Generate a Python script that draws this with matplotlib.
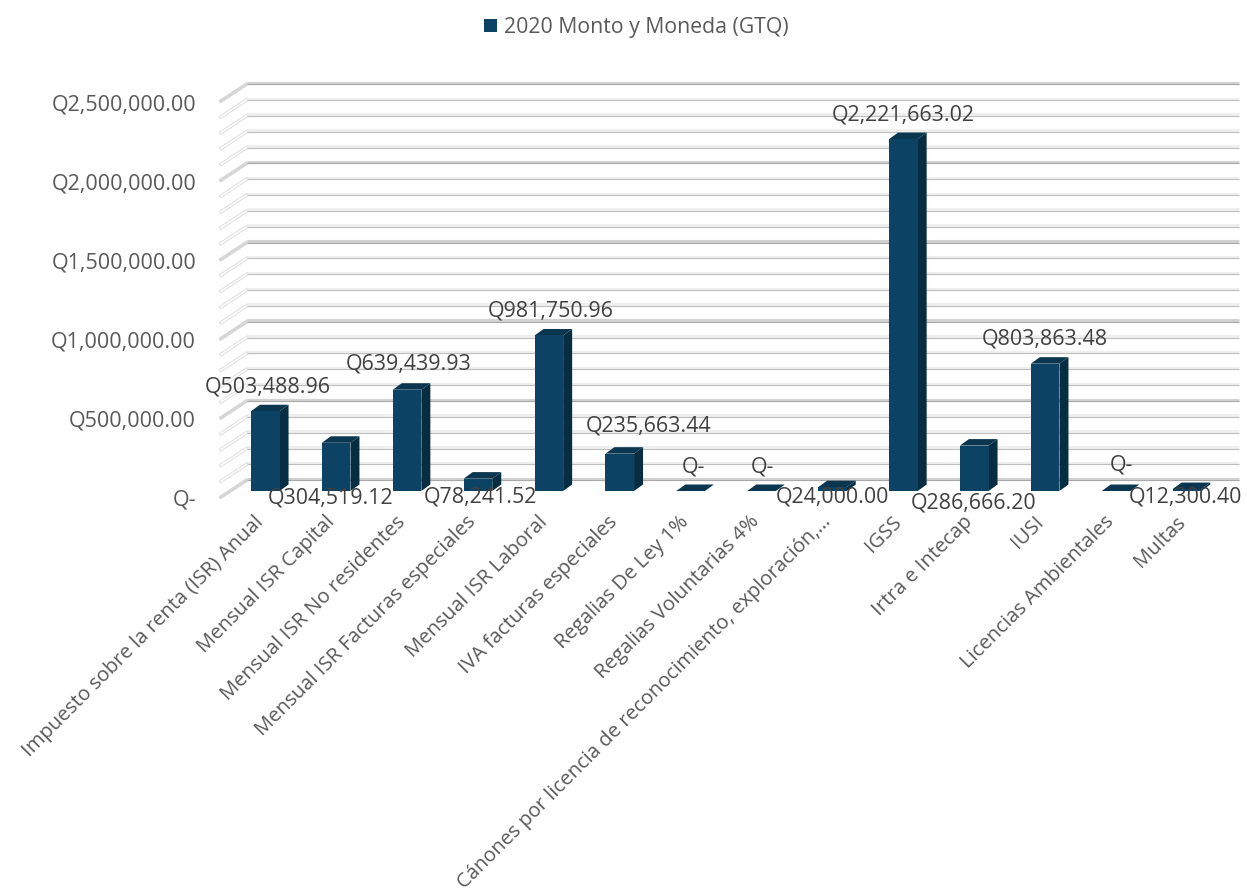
import matplotlib
matplotlib.use('Agg')
import matplotlib.pyplot as plt
from matplotlib.patches import Polygon, Rectangle
from matplotlib.transforms import ScaledTranslation

plt.rcParams['font.family'] = ['Open Sans', 'DejaVu Sans']

W, H = 1247, 895

# Data
categories = ['Impuesto sobre la renta (ISR) Anual', 'Mensual ISR Capital',
              'Mensual ISR No residentes', 'Mensual ISR Facturas especiales',
              'Mensual ISR Laboral', 'IVA facturas especiales', 'Regalias De Ley 1%',
              'Regalias Voluntarias 4%',
              'Cánones por licencia de reconocimiento, exploración,…',
              'IGSS', 'Irtra e Intecap', 'IUSI', 'Licencias Ambientales', 'Multas']
values = [503488.96, 304519.12, 639439.93, 78241.52, 981750.96, 235663.44, 0, 0,
          24000.00, 2221663.02, 286666.20, 803863.48, 0, 12300.40]
y_ticks = [0, 500000, 1000000, 1500000, 2000000, 2500000]
minor_step = 100000
series_name = '2020 Monto y Moneda (GTQ)'

# where each data label sits relative to its bar, in pixels
label_dx = [11.5, 3.6, 10.7, 11, 11, 38, 12, 9.5, 8.8, 8.5, 8.5, 8.6, 14, 7]
label_dy = [31, -48, 33, -11.4, 31.5, 35, 31, 31, -3, 31, -50, 32, 33, -1]


def money(v):
    return 'Q-' if v == 0 else f'Q{v:,.2f}'


fig = plt.figure(figsize=(W / 100, H / 100), dpi=100)
left, right, bottom, top = 221, 1213.6, 498, 102
ax = fig.add_axes([left / W, 1 - bottom / H, (right - left) / W, (bottom - top) / H])
ax.set_xlim(-0.5, len(categories) - 0.5)
ax.set_ylim(0, y_ticks[-1])
for s in ax.spines.values():
    s.set_visible(False)

px_x = (len(categories)) / (right - left)
px_y = y_ticks[-1] / (bottom - top)

# back wall and left wall gridlines
wall_dx, wall_dy = 25.5 * px_x, 16.8 * px_y
x0 = -0.5
x_end = x0 + (1239 - left) * px_x
n_lines = y_ticks[-1] // minor_step
for k in range(n_lines + 1):
    v = k * minor_step
    major = v in y_ticks
    vb = v + wall_dy
    ax.plot([x0 + wall_dx, x_end], [vb + 1.5 * px_y] * 2, color='#D2D2D2' if major else '#EFEFEF',
            lw=2.2, clip_on=False, zorder=1, solid_capstyle='butt')
    ax.plot([x0 + wall_dx, x_end], [vb] * 2, color='#A8A8A8' if major else '#BEBEBE',
            lw=0.8, clip_on=False, zorder=1.1, solid_capstyle='butt')
    ax.plot([x0, x0 + wall_dx], [v, vb], color='#D6D6D6' if major else '#E2E2E2', lw=2.6,
            clip_on=False, zorder=1)
    if not major:
        ax.plot([x0, x0 + wall_dx], [v, vb], color='white', lw=1.0, clip_on=False, zorder=1.2)

# 3D bars: front face through ax.bar, side and top as polygons
shift_x, shift_y = 8.8 * px_x, 6 * px_y
bar_w = 28.6 * px_x
dx, dy = 9 * px_x, 6.5 * px_y
positions = list(range(len(categories)))
for i, v in zip(positions, values):
    xl = i + shift_x - bar_w / 2
    xr = xl + bar_w
    yb = shift_y
    yt = shift_y + v
    ax.add_patch(Polygon([(xr, yb), (xr + dx, yb + dy), (xr + dx, yt + dy), (xr, yt)],
                         fc='#062D42', ec='none', zorder=3, clip_on=False))
    ax.add_patch(Polygon([(xl, yt), (xl + dx, yt + dy), (xr + dx, yt + dy), (xr, yt)],
                         fc='#0A3650', ec='none', zorder=3, clip_on=False))
ax.bar([p + shift_x for p in positions], values, width=bar_w, bottom=shift_y,
       color='#0C4364', zorder=3.5)

# data labels
for i, v in enumerate(values):
    ax.annotate(money(v), xy=(i, v), xytext=(label_dx[i], label_dy[i]),
                textcoords='offset pixels', ha='center', va='center',
                fontsize=15.4, color='#404040', zorder=5, annotation_clip=False)

ax.set_yticks(y_ticks)
ax.set_yticklabels([money(v) for v in y_ticks], fontsize=15.5, color='#595959')
ax.tick_params(axis='y', length=0, pad=18)
ax.set_xticks(positions)
ax.set_xticklabels(categories, rotation=45, ha='right', rotation_mode='anchor',
                   fontsize=14.6, color='#595959')
ax.tick_params(axis='x', length=0, pad=10)
for lab in ax.get_xticklabels():
    lab.set_transform(lab.get_transform() + ScaledTranslation(-3 / 100, 0, fig.dpi_scale_trans))

# legend at the top
fig.patches.append(Rectangle((484 / W, 1 - 33 / H), 13 / W, 13 / H, fc='#0C4364', ec='none',
                             transform=fig.transFigure))
fig.text(504 / W, 1 - 27.5 / H, series_name, fontsize=15.3, color='#595959', va='center', ha='left')

fig.savefig('out.png', dpi=100)
